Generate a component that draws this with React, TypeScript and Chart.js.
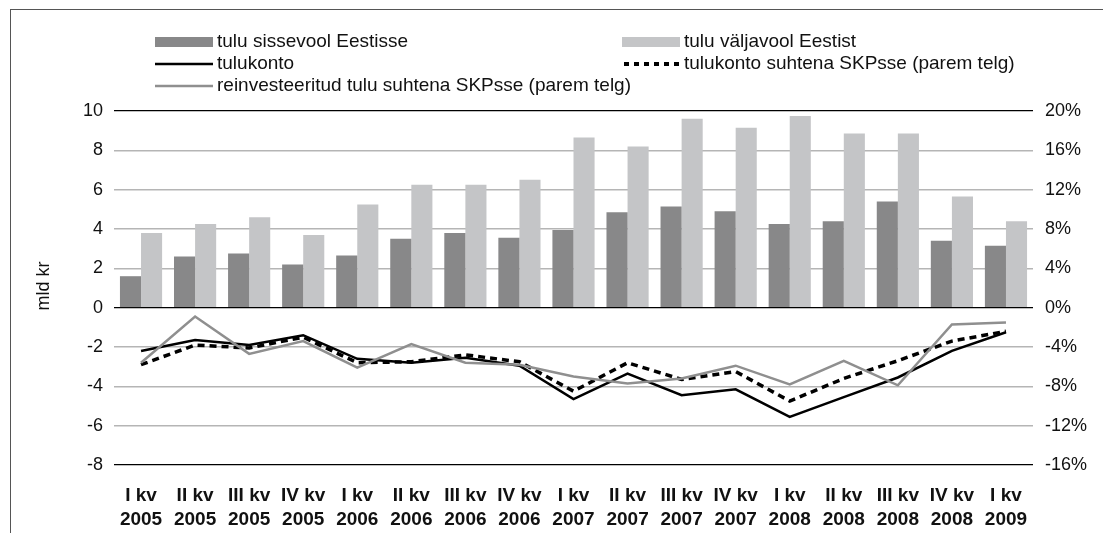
import React, { useEffect, useRef } from "react";
import { Chart, registerables } from "chart.js";

Chart.register(...registerables);

const categories: string[][] = [
  ["I kv", "2005"], ["II kv", "2005"], ["III kv", "2005"], ["IV kv", "2005"],
  ["I kv", "2006"], ["II kv", "2006"], ["III kv", "2006"], ["IV kv", "2006"],
  ["I kv", "2007"], ["II kv", "2007"], ["III kv", "2007"], ["IV kv", "2007"],
  ["I kv", "2008"], ["II kv", "2008"], ["III kv", "2008"], ["IV kv", "2008"],
  ["I kv", "2009"],
];

const inflow = [1.6, 2.6, 2.75, 2.2, 2.65, 3.5, 3.8, 3.55, 3.95, 4.85, 5.15, 4.9, 4.25, 4.4, 5.4, 3.4, 3.15];
const outflow = [3.8, 4.25, 4.6, 3.7, 5.25, 6.25, 6.25, 6.5, 8.65, 8.2, 9.6, 9.15, 9.75, 8.85, 8.85, 5.65, 4.4];
const tulukonto = [-2.2, -1.65, -1.9, -1.4, -2.6, -2.8, -2.55, -2.95, -4.65, -3.35, -4.45, -4.15, -5.55, -4.55, -3.55, -2.2, -1.25];
const tulukontoGdp = [-5.8, -3.8, -4.1, -3.0, -5.6, -5.5, -4.8, -5.5, -8.5, -5.6, -7.3, -6.5, -9.5, -7.2, -5.4, -3.4, -2.4];
const reinvestedGdp = [-5.6, -0.9, -4.7, -3.4, -6.1, -3.7, -5.6, -5.8, -7.0, -7.7, -7.2, -5.9, -7.8, -5.4, -7.9, -1.7, -1.5];

const legendLabels = [
  "tulu sissevool Eestisse",
  "tulu väljavool Eestist",
  "tulukonto",
  "tulukonto suhtena SKPsse (parem telg)",
  "reinvesteeritud tulu suhtena SKPsse (parem telg)",
];
const leftAxisTitle = "mld kr";

const DARK = "#888889";
const LIGHT = "#c4c5c7";
const GRAYLINE = "#8f8f8f";
const FONT = "'Liberation Sans', Arial, Helvetica, sans-serif";

const overlayPlugin = {
  id: "overlay",
  afterDraw(chart: any) {
    const ctx = chart.ctx as CanvasRenderingContext2D;
    ctx.save();
    ctx.font = `19px ${FONT}`;
    ctx.fillStyle = "#111";
    ctx.textBaseline = "middle";
    ctx.textAlign = "left";
    const cols = [144, 611];
    const rows = [32, 54, 76];
    const mw = 58;
    const items = [
      { c: 0, r: 0, kind: "box", color: DARK },
      { c: 1, r: 0, kind: "box", color: LIGHT },
      { c: 0, r: 1, kind: "line", color: "#000", dash: [] as number[], w: 2.5 },
      { c: 1, r: 1, kind: "line", color: "#000", dash: [5, 5], w: 4 },
      { c: 0, r: 2, kind: "line", color: GRAYLINE, dash: [] as number[], w: 2.5 },
    ];
    items.forEach((it: any, i) => {
      const x = cols[it.c];
      const y = rows[it.r];
      if (it.kind === "box") {
        ctx.fillStyle = it.color;
        ctx.fillRect(x, y - 5, mw, 10);
      } else {
        ctx.strokeStyle = it.color;
        ctx.lineWidth = it.w;
        ctx.setLineDash(it.dash);
        ctx.beginPath();
        ctx.moveTo(x + (it.dash.length ? 2 : 0), y);
        ctx.lineTo(x + mw, y);
        ctx.stroke();
        ctx.setLineDash([]);
      }
      ctx.fillStyle = "#111";
      ctx.fillText(legendLabels[i], x + mw + 4, y);
    });
    // left axis title
    ctx.save();
    ctx.translate(33, 276);
    ctx.rotate(-Math.PI / 2);
    ctx.textAlign = "center";
    ctx.font = `18px ${FONT}`;
    ctx.fillText(leftAxisTitle, 0, 0);
    ctx.restore();
    ctx.restore();
  },
};

export default function App() {
  const ref = useRef<HTMLCanvasElement | null>(null);
  useEffect(() => {
    if (!ref.current) return;
    const chart = new Chart(ref.current, {
      type: "bar",
      data: {
        labels: categories,
        datasets: [
          {
            type: "line",
            label: legendLabels[4],
            data: reinvestedGdp,
            yAxisID: "y1",
            borderColor: GRAYLINE,
            borderWidth: 2.5,
            pointRadius: 0,
            tension: 0,
            order: 1,
          },
          {
            type: "line",
            label: legendLabels[2],
            data: tulukonto,
            yAxisID: "y",
            borderColor: "#000",
            borderWidth: 2.5,
            pointRadius: 0,
            tension: 0,
            order: 3,
          },
          {
            type: "line",
            label: legendLabels[3],
            data: tulukontoGdp,
            yAxisID: "y1",
            borderColor: "#000",
            borderWidth: 3.5,
            borderDash: [7, 5],
            pointRadius: 0,
            tension: 0,
            order: 2,
          },
          {
            type: "bar",
            label: legendLabels[0],
            data: inflow,
            yAxisID: "y",
            backgroundColor: DARK,
            categoryPercentage: 0.78,
            barPercentage: 1.0,
            order: 10,
          },
          {
            type: "bar",
            label: legendLabels[1],
            data: outflow,
            yAxisID: "y",
            backgroundColor: LIGHT,
            categoryPercentage: 0.78,
            barPercentage: 1.0,
            order: 11,
          },
        ],
      },
      options: {
        responsive: false,
        animation: false,
        devicePixelRatio: 1,
        layout: { padding: { top: 101, left: 0, right: 0, bottom: 0 } },
        plugins: { legend: { display: false }, tooltip: { enabled: false } },
        scales: {
          x: {
            offset: true,
            grid: { display: false },
            border: { display: false },
            ticks: {
              color: "#111",
              font: { family: FONT, size: 19, weight: "bold", lineHeight: 1.25 },
              padding: 11,
              maxRotation: 0,
              autoSkip: false,
            },
            afterFit(scale: any) { scale.height = 68; },
          },
          y: {
            position: "left",
            min: -8,
            max: 10,
            border: { display: false },
            grid: {
              drawTicks: false,
              color: (c: any) => ([10, 0, -8].includes(c.tick?.value) ? "#000" : "#b5b5b5"),
              lineWidth: (c: any) => ([10, 0, -8].includes(c.tick?.value) ? 1.2 : 1.5),
            },
            ticks: {
              stepSize: 2,
              color: "#111",
              padding: 11,
              font: { family: FONT, size: 18 },
            },
            afterFit(scale: any) { scale.width = 103; },
          },
          y1: {
            position: "right",
            min: -16,
            max: 20,
            border: { display: false },
            grid: { display: false, drawTicks: false },
            ticks: {
              stepSize: 4,
              color: "#111",
              padding: 12,
              font: { family: FONT, size: 18 },
              callback: (v: any) => `${v}%`,
            },
            afterFit(scale: any) { scale.width = 70; },
          },
        },
      },
      plugins: [overlayPlugin],
    });
    return () => chart.destroy();
  }, []);

  return (
    <div
      style={{
        position: "absolute",
        left: 10,
        top: 9,
        width: 1093,
        height: 524,
        borderTop: "1px solid #555",
        borderLeft: "1px solid #555",
        boxSizing: "border-box",
        overflow: "hidden",
        background: "#fff",
      }}
    >
      <canvas ref={ref} width={1092} height={523} style={{ display: "block" }} />
    </div>
  );
}
